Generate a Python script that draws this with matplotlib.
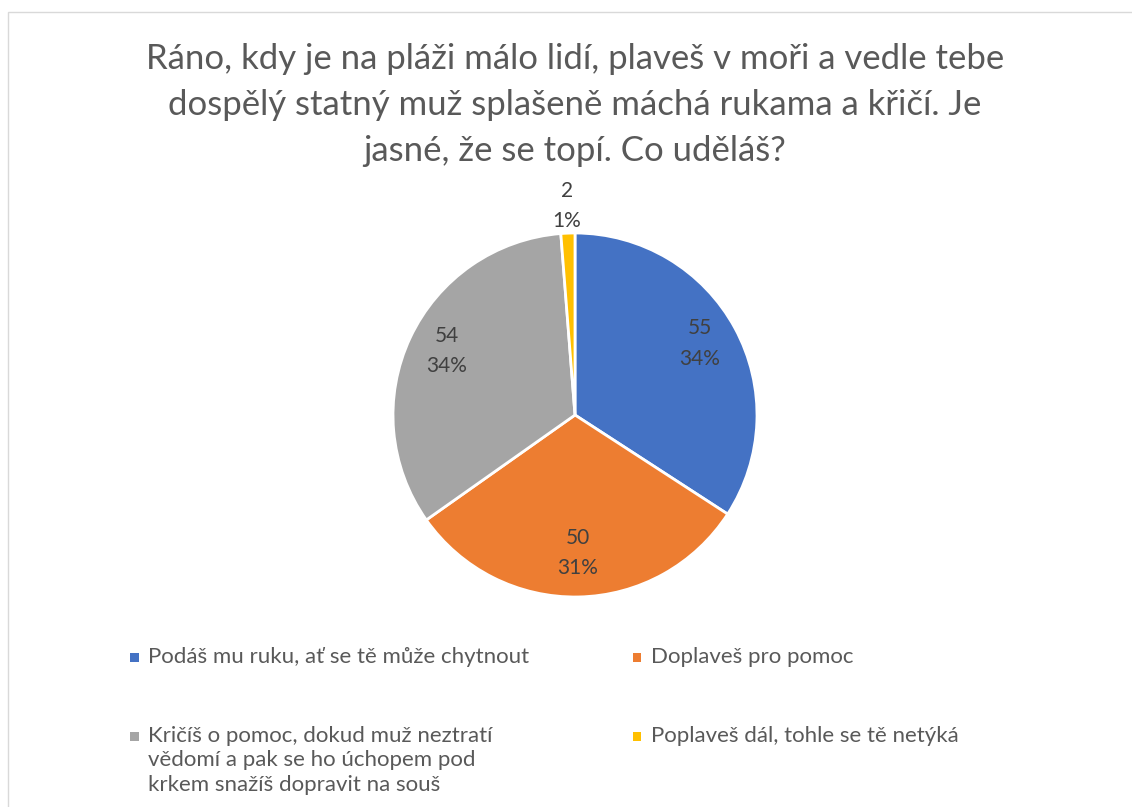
import matplotlib.pyplot as plt
from matplotlib.patches import Rectangle
import numpy as np

# data
odpovedi = ["Podáš mu ruku, ať se tě může chytnout",
            "Doplaveš pro pomoc",
            "Kričíš o pomoc, dokud muž neztratí\nvědomí a pak se ho úchopem pod\nkrkem snažíš dopravit na souš",
            "Poplaveš dál, tohle se tě netýká"]
pocty = [55, 50, 54, 2]
barvy = ["#4472C4", "#ED7D31", "#A5A5A5", "#FFC000"]
nadpis = ("Ráno, kdy je na pláži málo lidí, plaveš v moři a vedle tebe\n"
          "dospělý statný muž splašeně máchá rukama a křičí. Je\n"
          "jasné, že se topí. Co uděláš?")

plt.rcParams['font.family'] = ['Lato', 'DejaVu Sans']
W, H = 1132, 807
fig = plt.figure(figsize=(W / 100, H / 100), dpi=100)

# ramecek grafu
fig.patches.append(Rectangle((8 / W, -0.1), 1.2, 1 - 12 / H + 0.1, transform=fig.transFigure,
                             fill=False, edgecolor="#D9D9D9", linewidth=1.0))

fig.text(575 / W, 1 - 105 / H, nadpis, ha="center", va="center", fontsize=25,
         color="#595959", linespacing=1.52)

# kolac
cx, cy, r = 575, 415, 182
ax = fig.add_axes([(cx - r) / W, (H - cy - r) / H, 2 * r / W, 2 * r / H])
wedges, _ = ax.pie(pocty, colors=barvy, startangle=90, counterclock=False, radius=1,
                   wedgeprops=dict(edgecolor="white", linewidth=2))
ax.set_xlim(-1, 1)
ax.set_ylim(-1, 1)
ax.set_aspect("equal")
ax.axis("off")

celkem = sum(pocty)
for w, n in zip(wedges, pocty):
    uhel = np.deg2rad((w.theta1 + w.theta2) / 2)
    podil = n / celkem
    if podil > 0.05:
        x, y = 0.78 * np.cos(uhel), 0.78 * np.sin(uhel) + 0.02
    else:
        x, y = 1.15 * np.cos(uhel), 1.15 * np.sin(uhel)
    ax.text(x, y, "%d\n%d%%" % (n, round(podil * 100)),
            ha="center", va="center", fontsize=15, color="#404040", linespacing=1.65)

# legenda
leg_pozice = [(134, 657), (637, 657), (134, 736), (637, 736)]
for (lx, ly), text, barva in zip(leg_pozice, odpovedi, barvy):
    fig.patches.append(Rectangle(((lx - 4.5) / W, 1 - (ly + 4.5) / H), 9 / W, 9 / H,
                                 transform=fig.transFigure, facecolor=barva, edgecolor="none"))
    fig.text((lx + 14) / W, 1 - (ly - 10) / H, text, ha="left", va="top", fontsize=16,
             color="#595959", linespacing=1.27)

fig.savefig("out.png", dpi=100, facecolor="white")
